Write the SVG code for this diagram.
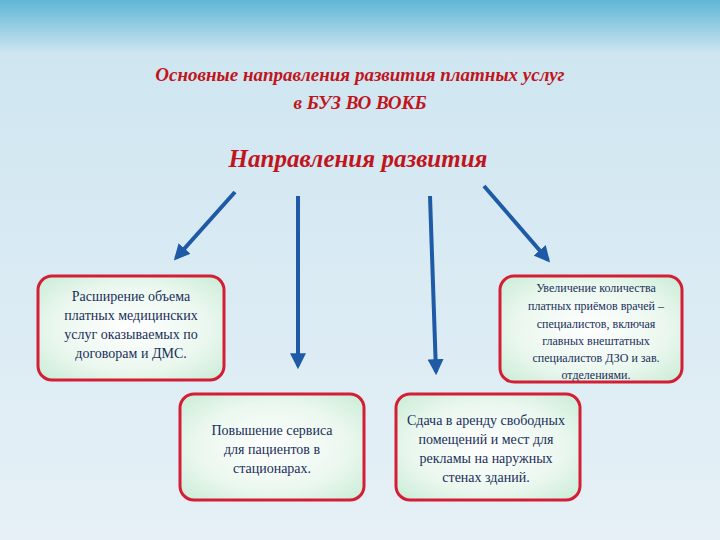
<svg xmlns="http://www.w3.org/2000/svg" width="720" height="540" viewBox="0 0 720 540">
<defs>
<linearGradient id="bg" x1="0" y1="0" x2="0" y2="1"><stop offset="0" stop-color="#5fb6d6"/><stop offset="0.1" stop-color="#cfe6f1"/><stop offset="1" stop-color="#e6f0f6"/></linearGradient>
<radialGradient id="box" cx="0.5" cy="0.5" r="0.7"><stop offset="0" stop-color="#ffffff"/><stop offset="0.6" stop-color="#eaf7ee"/><stop offset="1" stop-color="#c9ecd6"/></radialGradient>
<marker id="ah" viewBox="0 0 10 10" refX="8" refY="5" markerWidth="4" markerHeight="4" orient="auto"><path d="M0,0 L10,5 L0,10 z" fill="#1f5aa6"/></marker>
</defs>
<style>
.b{fill:url(#box);stroke:#d21f35;stroke-width:3}
.t{font-family:'Liberation Serif','DejaVu Serif',serif;font-size:14px;fill:#1a2f5a;text-anchor:middle}
.s{font-family:'Liberation Serif','DejaVu Serif',serif;font-size:12px;fill:#1a2f5a;text-anchor:middle}
.h{font-family:'Liberation Serif','DejaVu Serif',serif;font-style:italic;font-weight:bold;fill:#c0151c;text-anchor:middle}
.c{stroke:#1f5aa6;stroke-width:4;fill:none;marker-end:url(#ah)}
</style>
<rect width="720" height="540" fill="url(#bg)"/>
<text class="h" x="360" y="81" font-size="19">Основные направления развития платных услуг</text>
<text class="h" x="360" y="109" font-size="19">в БУЗ ВО ВОКБ</text>
<text class="h" x="358" y="167" font-size="25">Направления развития</text>
<g id="connectors">
<line class="c" x1="235" y1="192" x2="176" y2="258"/>
<line class="c" x1="298" y1="196" x2="298" y2="366"/>
<line class="c" x1="430" y1="196" x2="436" y2="372"/>
<line class="c" x1="484" y1="186" x2="548" y2="260"/>
</g>
<g id="n1"><rect class="b" x="38" y="276" width="186" height="104" rx="14"/>
<text class="t" x="131" y="301">Расширение объема</text><text class="t" x="131" y="320">платных медицинских</text><text class="t" x="131" y="339">услуг оказываемых по</text><text class="t" x="131" y="358">договорам и ДМС.</text></g>
<g id="n2"><rect class="b" x="500" y="276" width="182" height="106" rx="14"/>
<text class="s" x="596" y="292">Увеличение количества</text><text class="s" x="596" y="310">платных приёмов врачей –</text><text class="s" x="596" y="328">специалистов, включая</text><text class="s" x="596" y="345">главных внештатных</text><text class="s" x="596" y="362">специалистов ДЗО и зав.</text><text class="s" x="596" y="379">отделениями.</text></g>
<g id="n3"><rect class="b" x="180" y="394" width="184" height="106" rx="14"/>
<text class="t" x="272" y="435">Повышение сервиса</text><text class="t" x="272" y="454">для пациентов в</text><text class="t" x="272" y="473">стационарах.</text></g>
<g id="n4"><rect class="b" x="396" y="394" width="184" height="106" rx="14"/>
<text class="t" x="486" y="425">Сдача в аренду свободных</text><text class="t" x="486" y="444">помещений и мест для</text><text class="t" x="486" y="463">рекламы на наружных</text><text class="t" x="486" y="482">стенах зданий.</text></g>
</svg>
